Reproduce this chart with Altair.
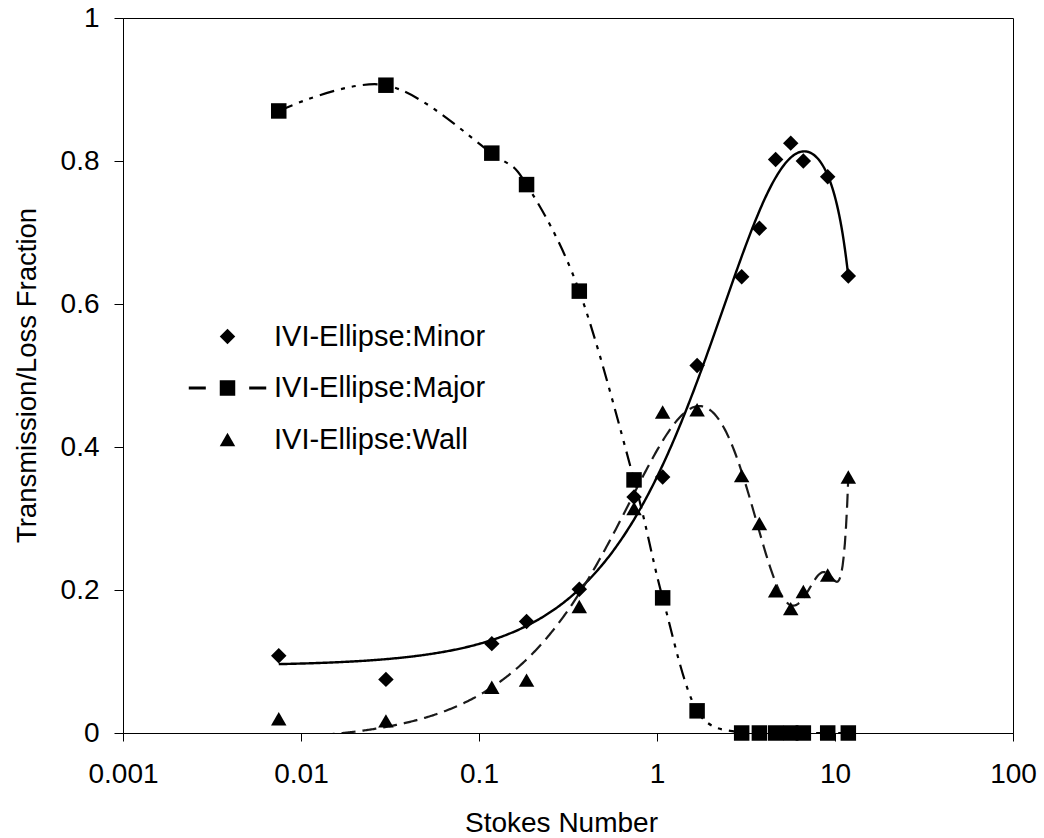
import altair as alt
import numpy as np
import pandas as pd

FONT = "Liberation Sans"

# Stokes numbers of the measured cases
stokes = [0.0075, 0.03, 0.118, 0.185, 0.366, 0.743, 1.076, 1.68,
          2.99, 3.76, 4.64, 5.64, 6.64, 9.1, 11.88]

# Transmission / loss fractions per outlet
minor = [0.108, 0.075, 0.125, 0.156, 0.201, 0.330, 0.358, 0.514,
         0.638, 0.706, 0.802, 0.825, 0.800, 0.778, 0.639]
major = [0.870, 0.906, 0.811, 0.767, 0.618, 0.354, 0.189, 0.031,
         0.0, 0.0, 0.0, 0.0, 0.0, 0.0, 0.0]
wall = [0.020, 0.017, 0.064, 0.074, 0.177, 0.314, 0.449, 0.452,
        0.360, 0.293, 0.199, 0.174, 0.198, 0.221, 0.358]

names = ["IVI-Ellipse:Minor", "IVI-Ellipse:Major", "IVI-Ellipse:Wall"]
x_ticks = [0.001, 0.01, 0.1, 1, 10, 100]
y_ticks = [0, 0.2, 0.4, 0.6, 0.8, 1]

points = pd.DataFrame({
    "stokes": stokes * 3,
    "fraction": minor + major + wall,
    "series": [n for n in names for _ in stokes],
})
major_df = pd.DataFrame({"stokes": stokes, "fraction": major})
key_df = pd.DataFrame({"series": names})

# Polynomial trendlines (fitted in linear Stokes number), evaluated along a
# log-spaced grid so they render smoothly on the log axis
grid = np.logspace(np.log10(min(stokes)), np.log10(max(stokes)), 500)


def trend(values, order):
    coef = np.polyfit(stokes, values, order)
    return pd.DataFrame({"stokes": grid, "fraction": np.polyval(coef, grid)})


minor_trend = trend(minor, 4)
wall_trend = trend(wall, 5)

x_enc = alt.X(
    "stokes:Q",
    scale=alt.Scale(type="log", domain=[0.001, 100]),
    axis=alt.Axis(
        title="Stokes Number", values=x_ticks, format="~g",
        tickSize=8, labelPadding=19, labelFlush=False, labelOverlap=False,
        titleX=438, titleY=98, titleBaseline="alphabetic", titleAnchor="middle",
        titleFontSize=28,
    ),
)
y_enc = alt.Y(
    "fraction:Q",
    scale=alt.Scale(domain=[0, 1], nice=False, zero=True),
    axis=alt.Axis(
        title="Transmission/Loss Fraction", values=y_ticks, format="~g",
        tickSize=9, labelPadding=15, labelFlush=False, labelOverlap=False,
        titleX=-88, titleY=357, titleBaseline="alphabetic", titleAngle=-90,
        titleAlign="center", titleFontSize=27.5,
    ),
)

minor_line = alt.Chart(minor_trend).mark_line(
    color="black", strokeWidth=2.4, clip=True
).encode(x=x_enc, y=y_enc)

wall_line = alt.Chart(wall_trend).mark_line(
    color="#1a1a1a", strokeWidth=2.2, strokeDash=[14, 7], clip=True
).encode(x=x_enc, y=y_enc)

major_line = alt.Chart(major_df).mark_line(
    color="black", strokeWidth=2.2, interpolate="cardinal", tension=0,
    strokeDash=[15, 7, 4, 7, 4, 7], clip=True
).encode(x=x_enc, y=y_enc)

markers = alt.Chart(points).mark_point(
    filled=True, size=240, opacity=1, color="black", strokeWidth=0
).encode(
    x=x_enc,
    y=y_enc,
    shape=alt.Shape(
        "series:N",
        scale=alt.Scale(domain=names, range=["diamond", "square", "triangle-up"]),
        legend=None,
    ),
)

# Legend key: the Major entry carries its line segments either side of the square
major_key = ("M-1,-1H1V1H-1Z M-5.0,-0.18H-2.8V0.18H-5.0Z "
             "M2.8,-0.18H5.0V0.18H2.8Z")

key = alt.Chart(key_df).mark_point(
    filled=True, size=240, opacity=0, color="black", strokeWidth=0
).encode(
    x=alt.value(0),
    y=alt.value(0),
    shape=alt.Shape(
        "series:N",
        scale=alt.Scale(domain=names, range=["diamond", major_key, "triangle-up"]),
        legend=alt.Legend(
            title=None, orient="none", legendX=90, legendY=304,
            padding=0, rowPadding=21.5, labelOffset=32, labelLimit=500,
            labelFontSize=29, labelFont=FONT, labelColor="black",
            symbolFillColor="black", symbolStrokeColor="black",
            symbolStrokeWidth=0, symbolSize=240, symbolOpacity=1,
        ),
    ),
)

chart = alt.layer(minor_line, wall_line, major_line, markers, key).resolve_scale(
    shape="independent"
).properties(
    width=890, height=715, autosize="none",
    padding={"left": 123, "top": 18, "right": 31, "bottom": 105},
    background="white",
).configure_view(
    stroke="black", strokeWidth=1
).configure_axis(
    grid=False, domainColor="black", tickColor="black", domainWidth=1,
    tickWidth=1, labelColor="black", titleColor="black",
    labelFont=FONT, titleFont=FONT, labelFontSize=28,
    titleFontWeight="normal",
)

chart.save("out.html", embed_options={"renderer": "svg", "actions": False})
